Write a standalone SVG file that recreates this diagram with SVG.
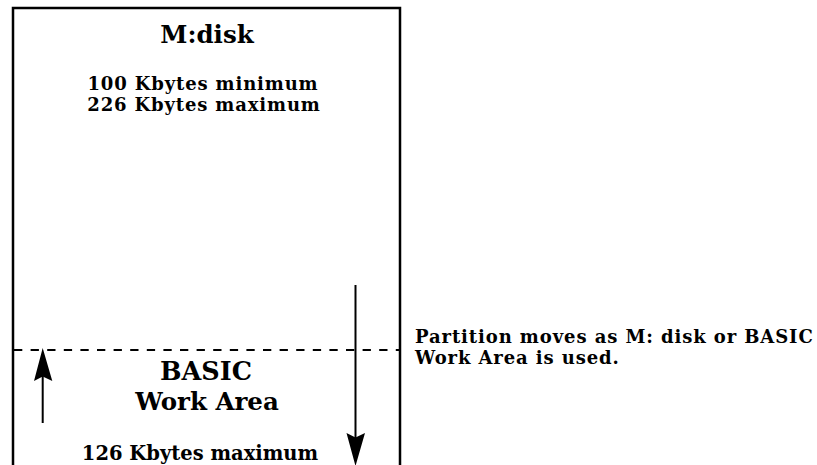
<svg xmlns="http://www.w3.org/2000/svg" width="817" height="465" viewBox="0 0 817 465">
<style>
text{font-family:"DejaVu Serif","Liberation Serif",serif;font-weight:bold;fill:#000}
.big{font-size:24.5px}
.mid{font-size:19.5px}
.pair{font-size:18px;letter-spacing:0.85px}
.note{font-size:18px;letter-spacing:0.9px}
.line{stroke:#000;stroke-width:2.5;fill:none}
.arrow{stroke:#000;stroke-width:2;fill:none}
.head{fill:#000}
</style>
<g id="memory">
<path class="line" d="M13,466 V8 H400 V466"/>
<text class="big" x="207" y="43.3" text-anchor="middle">M:disk</text>
<text class="pair" x="203" y="90" text-anchor="middle">100 Kbytes minimum</text>
<text class="pair" x="204" y="111" text-anchor="middle">226 Kbytes maximum</text>
</g>
<g id="workarea">
<text class="big" x="206" y="379.5" text-anchor="middle" style="font-size:25.5px">BASIC</text>
<text class="big" x="207" y="409.5" text-anchor="middle">Work Area</text>
<text class="mid" x="200" y="460" text-anchor="middle">126 Kbytes maximum</text>
</g>
<g id="note">
<text class="note" x="415" y="343">Partition moves as M: disk or BASIC</text>
<text class="note" x="415" y="364">Work Area is used.</text>
</g>
<g id="connectors">
<line x1="14" y1="350" x2="400" y2="350" stroke="#000" stroke-width="2" stroke-dasharray="8.3 8.3"/>
<line class="arrow" x1="42.7" y1="423" x2="42.7" y2="372"/>
<path class="head" d="M42.7,348 L52.3,381 L42.7,376.5 L34,381 Z"/>
<line class="arrow" x1="355.5" y1="285" x2="355.5" y2="440"/>
<path class="head" d="M355.5,466 L346.5,433 L355.5,437.5 L365,433 Z"/>
</g>
</svg>
